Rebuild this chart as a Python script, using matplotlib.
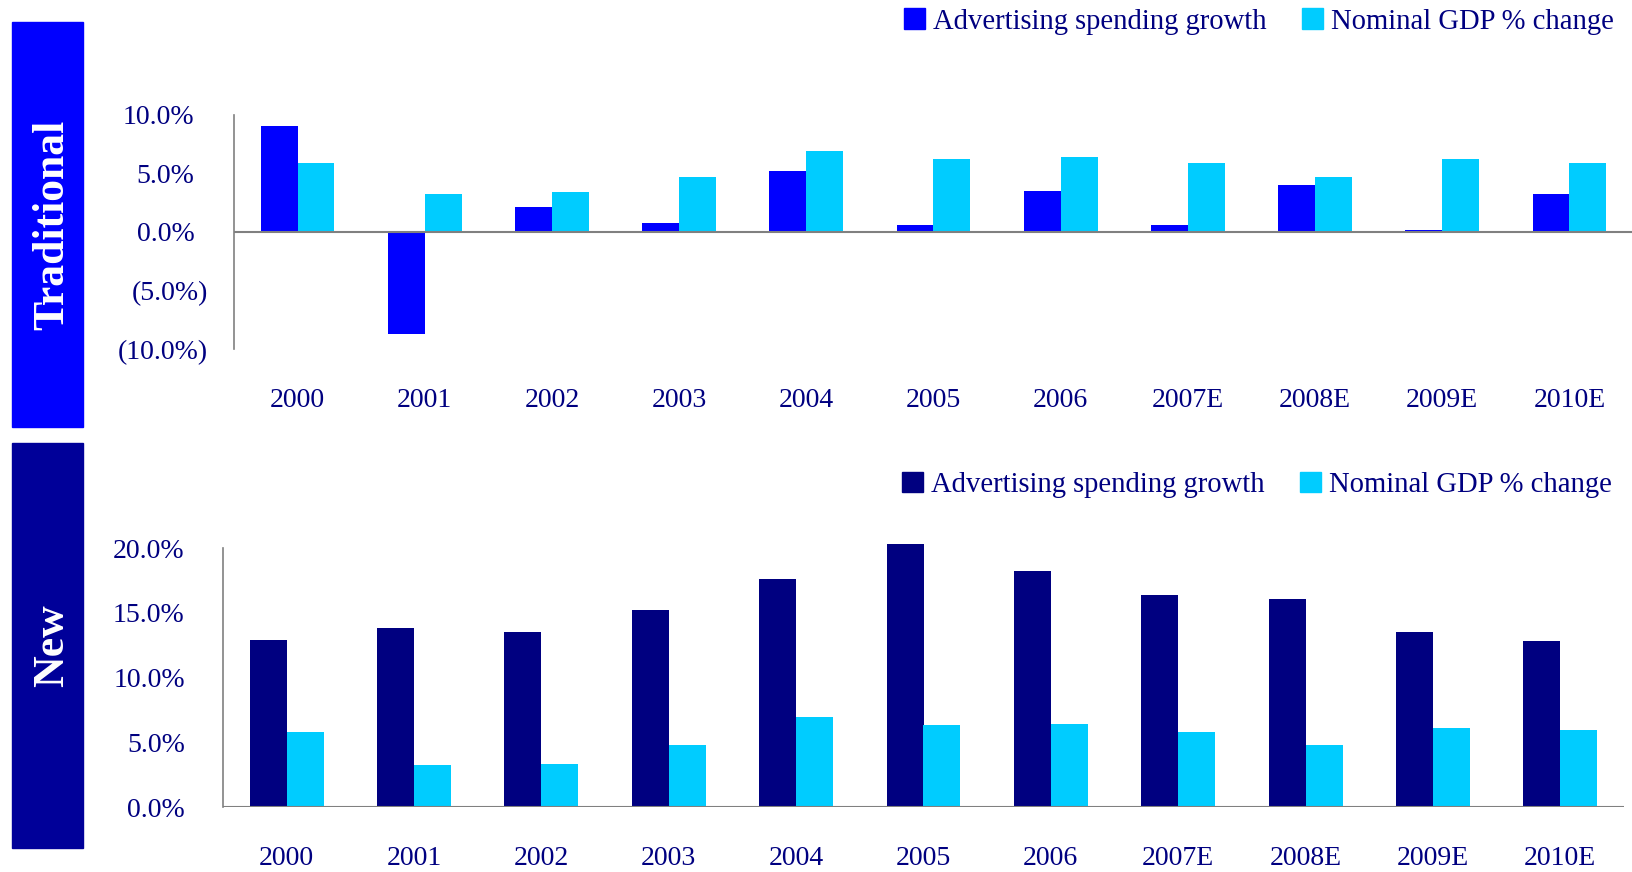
import matplotlib.pyplot as plt
import matplotlib.transforms as mtransforms
from matplotlib.patches import Rectangle, Patch
import numpy as np

plt.rcParams['font.family'] = ['Liberation Serif', 'DejaVu Serif']

# --- data ---
years = ['2000', '2001', '2002', '2003', '2004', '2005', '2006',
         '2007E', '2008E', '2009E', '2010E']
trad_adv = [9.0, -8.7, 2.1, 0.8, 5.2, 0.6, 3.5, 0.6, 4.0, 0.15, 3.2]
trad_gdp = [5.9, 3.2, 3.4, 4.7, 6.9, 6.2, 6.4, 5.9, 4.7, 6.2, 5.9]
new_adv = [12.9, 13.8, 13.5, 15.2, 17.6, 20.3, 18.2, 16.4, 16.1, 13.5, 12.8]
new_gdp = [5.8, 3.3, 3.35, 4.8, 7.0, 6.35, 6.4, 5.8, 4.8, 6.1, 6.0]

trad_ticks = [-10, -5, 0, 5, 10]
new_ticks = [0, 5, 10, 15, 20]

BLUE = '#0000FF'
CYAN = '#00CCFF'
NAVY = '#000080'
NAVY_BOX = '#000099'
TXT = '#000080'
GRAY = '#808080'
FS = 20
LEG_FS = 20.6

W, H = 1633, 872
fig = plt.figure(figsize=(W / 100, H / 100), dpi=100)


def fx(px):
    return px / W


def fy(px):
    return 1 - px / H


def pct_label(v):
    return f"({abs(v):.1f}%)" if v < 0 else f"{v:.1f}%"


def draw_panel(rect, adv, gdp, adv_color, ylim, ticks, box, box_color,
               side_text, legend_y, legend_x):
    ax = fig.add_axes(rect)
    x = np.arange(len(years))
    bw = 0.29
    ax.bar(x - bw / 2, adv, bw, color=adv_color, zorder=2, clip_on=False)
    ax.bar(x + bw / 2, gdp, bw, color=CYAN, zorder=2, clip_on=False)
    ax.set_xlim(-0.5, len(years) - 0.5)
    ax.set_ylim(*ylim)
    ax.axhline(0, color=GRAY, lw=1.5, zorder=3)
    for s in ['top', 'right', 'bottom']:
        ax.spines[s].set_visible(False)
    ax.spines['left'].set_color(GRAY)
    ax.spines['left'].set_linewidth(1.2)
    ax.set_xticks(x, years)
    ax.set_yticks(ticks, [pct_label(t) for t in ticks])
    has_neg = min(ticks) < 0
    ax.tick_params(axis='x', length=0, pad=28, labelsize=FS, labelcolor=TXT)
    ax.tick_params(axis='y', length=0, pad=18.5 if has_neg else 27.5,
                   labelsize=FS, labelcolor=TXT)
    if has_neg:
        # positive labels are shifted left so the "%" lines up (Excel-style)
        off = mtransforms.ScaledTranslation(-14 / 100, 0, fig.dpi_scale_trans)
        for tick, v in zip(ax.yaxis.get_major_ticks(), ticks):
            if v >= 0:
                tick.label1.set_transform(tick.label1.get_transform() + off)

    # side label box
    bx0, by0, bx1, by1 = box
    fig.patches.append(Rectangle((fx(bx0), fy(by1)), fx(bx1 - bx0),
                                 (by1 - by0) / H, transform=fig.transFigure,
                                 color=box_color, zorder=0))
    fig.text(fx((bx0 + bx1) / 2 + 5), fy((by0 + by1) / 2), side_text,
             rotation=90, ha='center', va='center', color='white',
             fontsize=31.5, fontweight='bold')

    handles = [Patch(color=adv_color), Patch(color=CYAN)]
    ax.legend(handles, ['Advertising spending growth', 'Nominal GDP % change'],
              ncol=2, frameon=False, fontsize=LEG_FS, labelcolor=TXT,
              loc='center left', bbox_to_anchor=(fx(legend_x), fy(legend_y)),
              bbox_transform=fig.transFigure, borderpad=0, borderaxespad=0,
              handlelength=0.72, handleheight=0.72, handletextpad=0.28,
              columnspacing=1.25)
    return ax


draw_panel([fx(234), fy(349.3), fx(1633 - 234), (349.3 - 114.6) / H],
           trad_adv, trad_gdp, BLUE, (-10, 10), trad_ticks,
           (12, 22, 83, 427), BLUE, 'Traditional', 21.5, 904)

draw_panel([fx(223), fy(807.3), fx(1624 - 223), (807.3 - 548) / H],
           new_adv, new_gdp, NAVY, (0, 20), new_ticks,
           (12, 443, 83, 848), NAVY_BOX, 'New', 485, 902)

fig.savefig('out.png', dpi=100)
